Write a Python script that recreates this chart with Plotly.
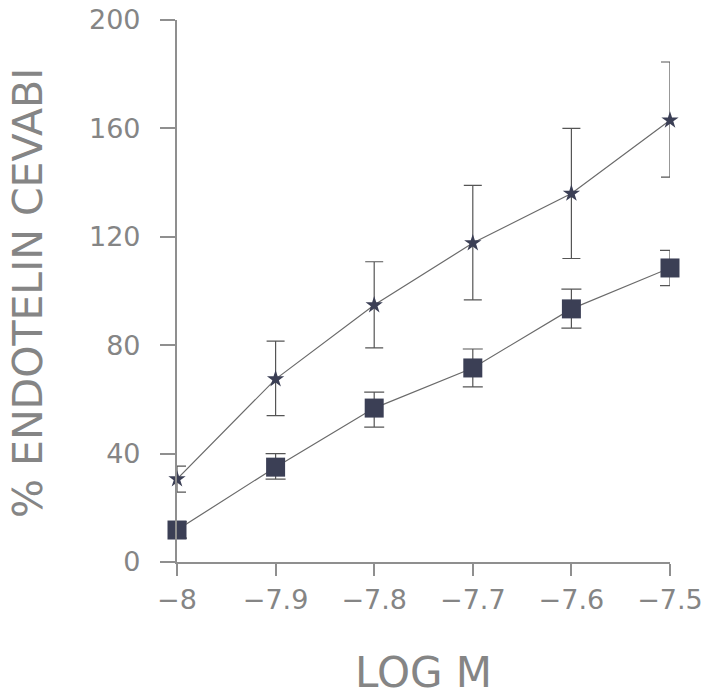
import plotly.graph_objects as go

log_m = [-8.0, -7.9, -7.8, -7.7, -7.6, -7.5]

star_vals = [30.6, 67.5, 94.8, 117.7, 136.0, 163.0]
star_err_plus = [4.8, 14.0, 16.0, 21.3, 24.0, 21.5]
star_err_minus = [4.8, 13.5, 15.8, 21.0, 24.0, 21.0]

square_vals = [11.8, 35.0, 56.8, 71.6, 93.4, 108.5]
square_err_plus = [3.0, 5.0, 5.9, 7.0, 7.3, 6.5]
square_err_minus = [3.0, 4.4, 7.0, 7.0, 7.1, 6.5]

y_ticks = [0, 40, 80, 120, 160, 200]
x_ticks = [-8, -7.9, -7.8, -7.7, -7.6, -7.5]

y_title = "% ENDOTELIN CEVABI"
x_title = "LOG M"

FONT = "DejaVu Sans"
TXT = "#858585"
AX = "#8f8f8f"

W, H = 705, 697
L, R, T, B = 177, 670, 20, 562
PW, PH = R - L, B - T

fig = go.Figure()

fig.add_trace(go.Scatter(
    x=log_m, y=square_vals, mode="lines+markers", cliponaxis=False,
    line=dict(color="#6a6a6a", width=1.2),
    marker=dict(symbol="square", size=19, color="#3b3f55"),
    error_y=dict(type="data", symmetric=False, array=square_err_plus,
                 arrayminus=square_err_minus, color="#555555", thickness=1.2, width=10),
    showlegend=False,
))

fig.add_trace(go.Scatter(
    x=log_m, y=star_vals, mode="lines+markers", cliponaxis=False,
    line=dict(color="#6a6a6a", width=1.2),
    marker=dict(symbol="star", size=13, color="#3b3f55"),
    error_y=dict(type="data", symmetric=False, array=star_err_plus,
                 arrayminus=star_err_minus, color="#555555", thickness=1.2, width=9),
    showlegend=False,
))

fig.update_layout(
    width=W, height=H,
    margin=dict(l=L, r=W - R, t=T, b=H - B, autoexpand=False),
    plot_bgcolor="white", paper_bgcolor="white",
    font=dict(family=FONT, color=TXT),
    xaxis=dict(
        range=[-8, -7.5], tickvals=x_ticks, ticks="outside", ticklen=12,
        tickcolor=AX, tickwidth=1.5, showline=True, linecolor=AX, linewidth=2.2,
        showgrid=False, zeroline=False, automargin=False, ticklabeloverflow="allow",
        tickfont=dict(size=27, color=TXT, family=FONT),
    ),
    yaxis=dict(
        range=[0, 200], tickvals=y_ticks, ticks="outside", ticklen=15,
        tickcolor=AX, tickwidth=1.5, showline=True, linecolor=AX, linewidth=2.2,
        showgrid=False, zeroline=False, automargin=False, ticklabeloverflow="allow",
        tickfont=dict(size=27, color=TXT, family=FONT),
        ticklabelstandoff=14,
    ),
    annotations=[
        dict(text=y_title, xref="paper", yref="paper",
             x=(28 - L) / PW, y=(B - 293) / PH,
             xanchor="center", yanchor="middle", textangle=-90, showarrow=False,
             font=dict(size=41, color=TXT, family=FONT)),
        dict(text=x_title, xref="paper", yref="paper",
             x=(423 - L) / PW, y=(B - 672) / PH,
             xanchor="center", yanchor="middle", showarrow=False,
             font=dict(size=42, color=TXT, family=FONT)),
    ],
)

fig.write_html("out.html", config={"displayModeBar": False},
               post_script="document.body.style.margin='0';")
